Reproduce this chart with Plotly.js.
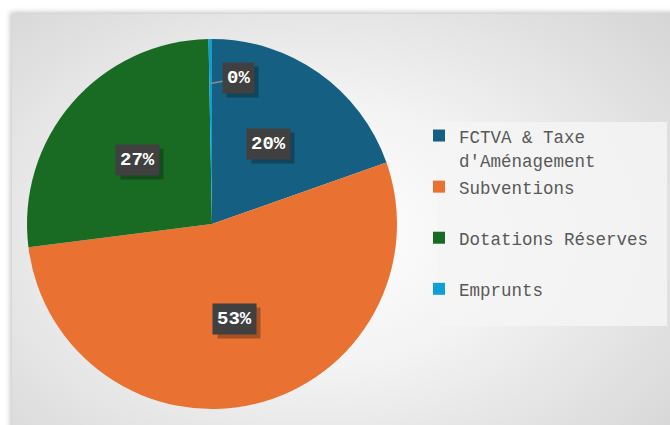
<!DOCTYPE html>
<html><head><meta charset="utf-8">
<script src="https://cdn.plot.ly/plotly-3.0.1.min.js"></script>
<style>
html,body{margin:0;padding:0;background:#fff;overflow:hidden;}
#panel{position:absolute;left:12px;top:14px;width:680px;height:440px;
 background:radial-gradient(ellipse 70% 75% at 45% 50%, #ffffff 0%, #f3f3f3 40%, #d5d5d5 100%);
 box-shadow:0 0 5px 2px rgba(0,0,0,0.22);}
#chart{position:absolute;left:0;top:0;width:670px;height:425px;}
</style></head><body>
<div id="panel"></div>
<div id="chart"></div>
<script>
const categories = ["FCTVA & Taxe<br>d'Aménagement", "Subventions", "Dotations Réserves", "Emprunts"];
const values = [19.6, 53.4, 26.7, 0.3];
const colors = ["#156082", "#e97132", "#196b24", "#0f9ed5"];

const W = 670, H = 425;
const CX = 212, CY = 224, R = 185;
const dom = {x:[(CX-R)/W,(CX+R)/W], y:[1-(CY+R)/H, 1-(CY-R)/H]};

const sp = s => '<span style="font-size:17.5px">' + s + '</span>';
const legendNames = categories.map(c => c.indexOf('<br>') >= 0
  ? c.split('<br>').map(sp).join('<br>')
  : sp(c) + '<br>\u00a0');

const total = values.reduce((a,b)=>a+b,0);
const annotations = [];
let cum = 0;
values.forEach((v,i)=>{
  const mid = (cum + v/2)/total*2*Math.PI; cum += v;
  const pct = Math.round(v/total*100) + '%';
  const small = v/total < 0.01;
  const rr = small ? 0.76 : 0.53;
  const px = CX + R*rr*Math.sin(mid), py = CY - R*rr*Math.cos(mid);
  const base = {xref:'paper', yref:'paper', x:px/W, y:1-py/H, text:pct,
    xanchor:'center', yanchor:'middle',
    font:{family:'Liberation Mono, monospace', size:19, color:'#ffffff', weight:'bold'},
    bgcolor:'#404040', borderpad:4, showarrow:false};
  if (small) {
    Object.assign(base, {showarrow:true, arrowhead:0, arrowwidth:1.5, arrowcolor:'#8c8c8c', ax:28, ay:-5, standoff:0});
  }
  const shadow = Object.assign({}, base, {text:'\u00a0'.repeat(pct.length), bgcolor:'rgba(0,0,0,0.28)', arrowcolor:'rgba(0,0,0,0)'});
  if (small) { shadow.ax = base.ax + 4; shadow.ay = base.ay + 4; }
  else { shadow.xshift = 4; shadow.yshift = -4; }
  annotations.push(shadow, base);
});

const data = [{
  type:'pie', labels:legendNames, values:values, sort:false, direction:'clockwise', rotation:0,
  marker:{colors:colors, line:{width:0}}, textinfo:'none', hoverinfo:'label+percent',
  domain:dom
}];
const layout = {
  width:W, height:H, margin:{l:0,r:0,t:0,b:0},
  paper_bgcolor:'rgba(0,0,0,0)', plot_bgcolor:'rgba(0,0,0,0)',
  showlegend:true,
  legend:{x:419/W, xanchor:'left', y:1-117/H, yanchor:'top', bgcolor:'rgba(0,0,0,0)',
    font:{family:'Liberation Mono, monospace', size:18.5, color:'#595959'}, valign:'top'},
  shapes:[{type:'rect', xref:'paper', yref:'paper', x0:437/W, x1:667/W, y0:1-326/H, y1:1-122/H,
    fillcolor:'rgba(245,245,245,0.85)', line:{width:0}, layer:'below'}],
  annotations:annotations
};
Plotly.newPlot('chart', data, layout, {displayModeBar:false, staticPlot:true});
</script></body></html>
